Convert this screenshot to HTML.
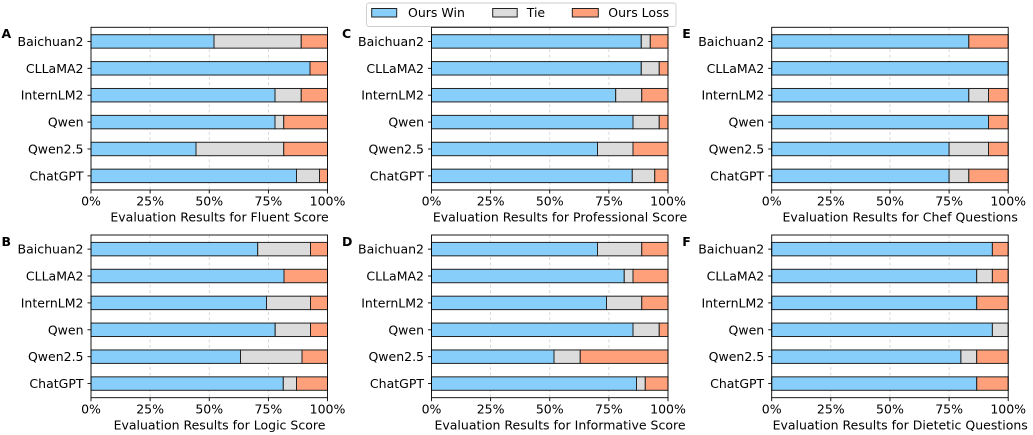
<!DOCTYPE html>
<html><head><meta charset="utf-8"><style>
html,body{margin:0;padding:0;background:#fff;}
svg{display:block;}
text{font-family:"DejaVu Sans","Liberation Sans",sans-serif;font-size:12.5px;fill:#000;}
.yl{text-anchor:end;}
.xl{text-anchor:middle;}
.pl{font-weight:bold;font-size:12.5px;}
.w{fill:#87CEFA;stroke:#222;stroke-width:1;}
.t{fill:#DCDCDC;stroke:#222;stroke-width:1;}
.l{fill:#FFA07A;stroke:#222;stroke-width:1;}
.g{stroke:#cfcfcf;stroke-width:0.8;stroke-dasharray:3,2.5;}
.sp{fill:none;stroke:#000;stroke-width:0.9;}
.tk{stroke:#000;stroke-width:0.9;}
</style></head><body>
<svg width="1033" height="435" viewBox="0 0 1033 435" xmlns="http://www.w3.org/2000/svg">
<defs>
<g id="frame">
<line class="g" x1="59.1" y1="0" x2="59.1" y2="162.7"/>
<line class="g" x1="118.25" y1="0" x2="118.25" y2="162.7"/>
<line class="g" x1="177.4" y1="0" x2="177.4" y2="162.7"/>
</g>
<g id="axes">
<rect class="sp" x="0" y="0" width="236.5" height="162.7"/>
<line class="tk" x1="-3.5" y1="14.12" x2="0" y2="14.12"/>
<line class="tk" x1="-3.5" y1="41.01" x2="0" y2="41.01"/>
<line class="tk" x1="-3.5" y1="67.9" x2="0" y2="67.9"/>
<line class="tk" x1="-3.5" y1="94.79" x2="0" y2="94.79"/>
<line class="tk" x1="-3.5" y1="121.68" x2="0" y2="121.68"/>
<line class="tk" x1="-3.5" y1="148.57" x2="0" y2="148.57"/>
<line class="tk" x1="0" y1="162.7" x2="0" y2="166.2"/>
<line class="tk" x1="59.1" y1="162.7" x2="59.1" y2="166.2"/>
<line class="tk" x1="118.25" y1="162.7" x2="118.25" y2="166.2"/>
<line class="tk" x1="177.4" y1="162.7" x2="177.4" y2="166.2"/>
<line class="tk" x1="236.5" y1="162.7" x2="236.5" y2="166.2"/>
</g>
</defs>

<!-- Legend -->
<rect x="366.5" y="3" width="309.5" height="23.5" rx="2.5" fill="#fff" stroke="#cccccc" stroke-width="0.9"/>
<rect class="w" x="371.7" y="8.5" width="25" height="8.5"/>
<text x="408" y="17">Ours Win</text>
<rect class="t" x="492.7" y="8.5" width="24.5" height="8.5"/>
<text x="526.7" y="17">Tie</text>
<rect class="l" x="572.3" y="8.5" width="26" height="8.5"/>
<text x="608.3" y="17">Ours Loss</text>

<!-- Panel A -->
<g transform="translate(91,27.3)">
<use href="#frame"/>
<rect class="w" x="0" y="7.4" width="123" height="13.45"/><rect class="t" x="123" y="7.4" width="87.25" height="13.45"/><rect class="l" x="210.25" y="7.4" width="26.25" height="13.45"/>
<rect class="w" x="0" y="34.29" width="219" height="13.45"/><rect class="l" x="219" y="34.29" width="17.5" height="13.45"/>
<rect class="w" x="0" y="61.18" width="184" height="13.45"/><rect class="t" x="184" y="61.18" width="26.25" height="13.45"/><rect class="l" x="210.25" y="61.18" width="26.25" height="13.45"/>
<rect class="w" x="0" y="88.07" width="184" height="13.45"/><rect class="t" x="184" y="88.07" width="8.75" height="13.45"/><rect class="l" x="192.75" y="88.07" width="43.75" height="13.45"/>
<rect class="w" x="0" y="114.96" width="105" height="13.45"/><rect class="t" x="105" y="114.96" width="87.75" height="13.45"/><rect class="l" x="192.75" y="114.96" width="43.75" height="13.45"/>
<rect class="w" x="0" y="141.85" width="205.5" height="13.45"/><rect class="t" x="205.5" y="141.85" width="23" height="13.45"/><rect class="l" x="228.5" y="141.85" width="8" height="13.45"/>
<use href="#axes"/>
<text class="yl" x="-7.5" y="18.6">Baichuan2</text>
<text class="yl" x="-7.5" y="45.5">CLLaMA2</text>
<text class="yl" x="-7.5" y="72.4">InternLM2</text>
<text class="yl" x="-7.5" y="99.3">Qwen</text>
<text class="yl" x="-7.5" y="126.2">Qwen2.5</text>
<text class="yl" x="-7.5" y="153.1">ChatGPT</text>
<text class="xl" x="0" y="178.3">0%</text>
<text class="xl" x="59.1" y="178.3">25%</text>
<text class="xl" x="118.25" y="178.3">50%</text>
<text class="xl" x="177.4" y="178.3">75%</text>
<text class="xl" x="236.5" y="178.3">100%</text>
<text class="xl" x="128.5" y="194.3">Evaluation Results for Fluent Score</text>
<text class="pl" x="-89.5" y="10.5">A</text>
</g>

<!-- Panel C -->
<g transform="translate(431.5,27.3)">
<use href="#frame"/>
<rect class="w" x="0" y="7.4" width="209.8" height="13.45"/><rect class="t" x="209.8" y="7.4" width="9" height="13.45"/><rect class="l" x="218.8" y="7.4" width="17.7" height="13.45"/>
<rect class="w" x="0" y="34.29" width="209.8" height="13.45"/><rect class="t" x="209.8" y="34.29" width="17.95" height="13.45"/><rect class="l" x="227.75" y="34.29" width="8.75" height="13.45"/>
<rect class="w" x="0" y="61.18" width="184.2" height="13.45"/><rect class="t" x="184.2" y="61.18" width="26.05" height="13.45"/><rect class="l" x="210.25" y="61.18" width="26.25" height="13.45"/>
<rect class="w" x="0" y="88.07" width="201.5" height="13.45"/><rect class="t" x="201.5" y="88.07" width="26.25" height="13.45"/><rect class="l" x="227.75" y="88.07" width="8.75" height="13.45"/>
<rect class="w" x="0" y="114.96" width="166" height="13.45"/><rect class="t" x="166" y="114.96" width="35.5" height="13.45"/><rect class="l" x="201.5" y="114.96" width="35" height="13.45"/>
<rect class="w" x="0" y="141.85" width="200.8" height="13.45"/><rect class="t" x="200.8" y="141.85" width="22.45" height="13.45"/><rect class="l" x="223.25" y="141.85" width="13.25" height="13.45"/>
<use href="#axes"/>
<text class="yl" x="-7.5" y="18.6">Baichuan2</text>
<text class="yl" x="-7.5" y="45.5">CLLaMA2</text>
<text class="yl" x="-7.5" y="72.4">InternLM2</text>
<text class="yl" x="-7.5" y="99.3">Qwen</text>
<text class="yl" x="-7.5" y="126.2">Qwen2.5</text>
<text class="yl" x="-7.5" y="153.1">ChatGPT</text>
<text class="xl" x="0" y="178.3">0%</text>
<text class="xl" x="59.1" y="178.3">25%</text>
<text class="xl" x="118.25" y="178.3">50%</text>
<text class="xl" x="177.4" y="178.3">75%</text>
<text class="xl" x="236.5" y="178.3">100%</text>
<text class="xl" x="128.5" y="194.3">Evaluation Results for Professional Score</text>
<text class="pl" x="-89.5" y="10.5">C</text>
</g>

<!-- Panel E -->
<g transform="translate(771.7,27.3)">
<use href="#frame"/>
<rect class="w" x="0" y="7.4" width="197.1" height="13.45"/><rect class="l" x="197.1" y="7.4" width="39.4" height="13.45"/>
<rect class="w" x="0" y="34.29" width="236.5" height="13.45"/>
<rect class="w" x="0" y="61.18" width="197.1" height="13.45"/><rect class="t" x="197.1" y="61.18" width="19.7" height="13.45"/><rect class="l" x="216.8" y="61.18" width="19.7" height="13.45"/>
<rect class="w" x="0" y="88.07" width="216.8" height="13.45"/><rect class="l" x="216.8" y="88.07" width="19.7" height="13.45"/>
<rect class="w" x="0" y="114.96" width="177.4" height="13.45"/><rect class="t" x="177.4" y="114.96" width="39.4" height="13.45"/><rect class="l" x="216.8" y="114.96" width="19.7" height="13.45"/>
<rect class="w" x="0" y="141.85" width="177.4" height="13.45"/><rect class="t" x="177.4" y="141.85" width="19.7" height="13.45"/><rect class="l" x="197.1" y="141.85" width="39.4" height="13.45"/>
<use href="#axes"/>
<text class="yl" x="-7.5" y="18.6">Baichuan2</text>
<text class="yl" x="-7.5" y="45.5">CLLaMA2</text>
<text class="yl" x="-7.5" y="72.4">InternLM2</text>
<text class="yl" x="-7.5" y="99.3">Qwen</text>
<text class="yl" x="-7.5" y="126.2">Qwen2.5</text>
<text class="yl" x="-7.5" y="153.1">ChatGPT</text>
<text class="xl" x="0" y="178.3">0%</text>
<text class="xl" x="59.1" y="178.3">25%</text>
<text class="xl" x="118.25" y="178.3">50%</text>
<text class="xl" x="177.4" y="178.3">75%</text>
<text class="xl" x="236.5" y="178.3">100%</text>
<text class="xl" x="128.5" y="194.3">Evaluation Results for Chef Questions</text>
<text class="pl" x="-89.5" y="10.5">E</text>
</g>

<!-- Panel B -->
<g transform="translate(91,235)">
<use href="#frame"/>
<rect class="w" x="0" y="7.4" width="166.7" height="13.45"/><rect class="t" x="166.7" y="7.4" width="52.8" height="13.45"/><rect class="l" x="219.5" y="7.4" width="17" height="13.45"/>
<rect class="w" x="0" y="34.29" width="193" height="13.45"/><rect class="l" x="193" y="34.29" width="43.5" height="13.45"/>
<rect class="w" x="0" y="61.18" width="175.5" height="13.45"/><rect class="t" x="175.5" y="61.18" width="44" height="13.45"/><rect class="l" x="219.5" y="61.18" width="17" height="13.45"/>
<rect class="w" x="0" y="88.07" width="184.2" height="13.45"/><rect class="t" x="184.2" y="88.07" width="35.3" height="13.45"/><rect class="l" x="219.5" y="88.07" width="17" height="13.45"/>
<rect class="w" x="0" y="114.96" width="149.5" height="13.45"/><rect class="t" x="149.5" y="114.96" width="61.5" height="13.45"/><rect class="l" x="211" y="114.96" width="25.5" height="13.45"/>
<rect class="w" x="0" y="141.85" width="192.3" height="13.45"/><rect class="t" x="192.3" y="141.85" width="13.2" height="13.45"/><rect class="l" x="205.5" y="141.85" width="31" height="13.45"/>
<use href="#axes"/>
<text class="yl" x="-7.5" y="18.6">Baichuan2</text>
<text class="yl" x="-7.5" y="45.5">CLLaMA2</text>
<text class="yl" x="-7.5" y="72.4">InternLM2</text>
<text class="yl" x="-7.5" y="99.3">Qwen</text>
<text class="yl" x="-7.5" y="126.2">Qwen2.5</text>
<text class="yl" x="-7.5" y="153.1">ChatGPT</text>
<text class="xl" x="0" y="178.3">0%</text>
<text class="xl" x="59.1" y="178.3">25%</text>
<text class="xl" x="118.25" y="178.3">50%</text>
<text class="xl" x="177.4" y="178.3">75%</text>
<text class="xl" x="236.5" y="178.3">100%</text>
<text class="xl" x="128.5" y="194.6">Evaluation Results for Logic Score</text>
<text class="pl" x="-89.5" y="10.8">B</text>
</g>

<!-- Panel D -->
<g transform="translate(431.5,235)">
<use href="#frame"/>
<rect class="w" x="0" y="7.4" width="166" height="13.45"/><rect class="t" x="166" y="7.4" width="44.25" height="13.45"/><rect class="l" x="210.25" y="7.4" width="26.25" height="13.45"/>
<rect class="w" x="0" y="34.29" width="192.75" height="13.45"/><rect class="t" x="192.75" y="34.29" width="8.75" height="13.45"/><rect class="l" x="201.5" y="34.29" width="35" height="13.45"/>
<rect class="w" x="0" y="61.18" width="175" height="13.45"/><rect class="t" x="175" y="61.18" width="35.25" height="13.45"/><rect class="l" x="210.25" y="61.18" width="26.25" height="13.45"/>
<rect class="w" x="0" y="88.07" width="201.5" height="13.45"/><rect class="t" x="201.5" y="88.07" width="26.25" height="13.45"/><rect class="l" x="227.75" y="88.07" width="8.75" height="13.45"/>
<rect class="w" x="0" y="114.96" width="122.5" height="13.45"/><rect class="t" x="122.5" y="114.96" width="26.25" height="13.45"/><rect class="l" x="148.75" y="114.96" width="87.75" height="13.45"/>
<rect class="w" x="0" y="141.85" width="205" height="13.45"/><rect class="t" x="205" y="141.85" width="8.8" height="13.45"/><rect class="l" x="213.8" y="141.85" width="22.7" height="13.45"/>
<use href="#axes"/>
<text class="yl" x="-7.5" y="18.6">Baichuan2</text>
<text class="yl" x="-7.5" y="45.5">CLLaMA2</text>
<text class="yl" x="-7.5" y="72.4">InternLM2</text>
<text class="yl" x="-7.5" y="99.3">Qwen</text>
<text class="yl" x="-7.5" y="126.2">Qwen2.5</text>
<text class="yl" x="-7.5" y="153.1">ChatGPT</text>
<text class="xl" x="0" y="178.3">0%</text>
<text class="xl" x="59.1" y="178.3">25%</text>
<text class="xl" x="118.25" y="178.3">50%</text>
<text class="xl" x="177.4" y="178.3">75%</text>
<text class="xl" x="236.5" y="178.3">100%</text>
<text class="xl" x="128.5" y="194.6">Evaluation Results for Informative Score</text>
<text class="pl" x="-89.5" y="10.8">D</text>
</g>

<!-- Panel F -->
<g transform="translate(771.7,235)">
<use href="#frame"/>
<rect class="w" x="0" y="7.4" width="220.7" height="13.45"/><rect class="l" x="220.7" y="7.4" width="15.8" height="13.45"/>
<rect class="w" x="0" y="34.29" width="205" height="13.45"/><rect class="t" x="205" y="34.29" width="15.7" height="13.45"/><rect class="l" x="220.7" y="34.29" width="15.8" height="13.45"/>
<rect class="w" x="0" y="61.18" width="205" height="13.45"/><rect class="l" x="205" y="61.18" width="31.5" height="13.45"/>
<rect class="w" x="0" y="88.07" width="220.7" height="13.45"/><rect class="t" x="220.7" y="88.07" width="15.8" height="13.45"/>
<rect class="w" x="0" y="114.96" width="189.2" height="13.45"/><rect class="t" x="189.2" y="114.96" width="15.8" height="13.45"/><rect class="l" x="205" y="114.96" width="31.5" height="13.45"/>
<rect class="w" x="0" y="141.85" width="205" height="13.45"/><rect class="l" x="205" y="141.85" width="31.5" height="13.45"/>
<use href="#axes"/>
<text class="yl" x="-7.5" y="18.6">Baichuan2</text>
<text class="yl" x="-7.5" y="45.5">CLLaMA2</text>
<text class="yl" x="-7.5" y="72.4">InternLM2</text>
<text class="yl" x="-7.5" y="99.3">Qwen</text>
<text class="yl" x="-7.5" y="126.2">Qwen2.5</text>
<text class="yl" x="-7.5" y="153.1">ChatGPT</text>
<text class="xl" x="0" y="178.3">0%</text>
<text class="xl" x="59.1" y="178.3">25%</text>
<text class="xl" x="118.25" y="178.3">50%</text>
<text class="xl" x="177.4" y="178.3">75%</text>
<text class="xl" x="236.5" y="178.3">100%</text>
<text class="xl" x="128.5" y="194.6">Evaluation Results for Dietetic Questions</text>
<text class="pl" x="-89.5" y="10.8">F</text>
</g>
</svg>
</body></html>
